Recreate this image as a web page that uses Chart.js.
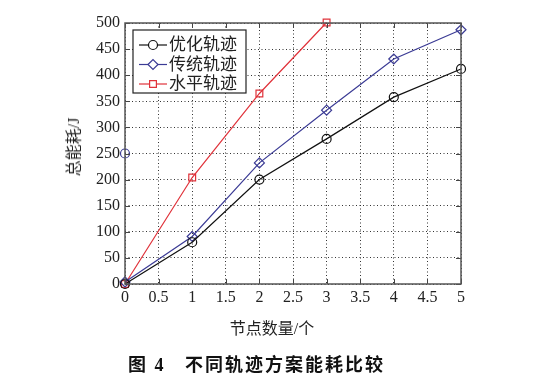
<!DOCTYPE html>
<html>
<head>
<meta charset="utf-8">
<script src="https://cdn.jsdelivr.net/npm/chart.js@4"></script>
<style>
  html, body { margin: 0; padding: 0; background: #fff; }
  #wrap { position: relative; width: 544px; height: 378px; overflow: hidden; }
  canvas { position: absolute; left: 0; top: 0; }
  .txt { position: absolute; font-family: "Liberation Serif", "Noto Sans CJK SC", serif; color: #222; white-space: nowrap; }
  #xtitle { left: 0; width: 544px; text-align: center; top: 315px; font-size: 16px; }
  #ytitle { left: 72px; top: 147px; font-size: 16px; transform: translate(-50%, -50%) rotate(-90deg); }
  #caption { left: 128px; top: 350px; font-size: 18px; font-weight: bold; letter-spacing: 2px; color: #111; }
</style>
</head>
<body>
<div id="wrap">
  <canvas id="energyChart" width="544" height="378"></canvas>
  <div class="txt" id="ytitle">总能耗/J</div>
  <div class="txt" id="xtitle">节点数量/个</div>
  <div class="txt" id="caption">图 4&nbsp;&nbsp;&nbsp;不同轨迹方案能耗比较</div>
</div>
<script>
// node counts
const nodes = [0, 1, 2, 3, 4, 5];
const redNodes = [0, 1, 2, 3];

// total energy (J)
const optimized = [0, 80, 200, 278, 358, 412];
const traditional = [4, 91, 232, 333, 431, 487];
const horizontal = [0, 204, 365, 501];

// stray marker at the left edge
const strayX = [0];
const strayY = [250];

const seriesNames = ['优化轨迹', '传统轨迹', '水平轨迹'];

const toPoints = (xs, ys) => xs.map((x, i) => ({ x: x, y: ys[i] }));

const serifFont = '"Liberation Serif", "Noto Sans CJK SC", serif';

// frame, inward ticks and legend box
const framePlugin = {
  id: 'frame',
  afterDraw(chart) {
    const { ctx, chartArea: a, scales } = chart;
    ctx.save();
    ctx.setLineDash([]);
    ctx.strokeStyle = '#444';
    ctx.lineWidth = 1;
    const len = 5;
    scales.x.ticks.forEach(t => {
      const px = Math.round(scales.x.getPixelForValue(t.value)) + 0.5;
      ctx.beginPath();
      ctx.moveTo(px, a.bottom); ctx.lineTo(px, a.bottom - len);
      ctx.moveTo(px, a.top); ctx.lineTo(px, a.top + len);
      ctx.stroke();
    });
    scales.y.ticks.forEach(t => {
      const py = Math.round(scales.y.getPixelForValue(t.value)) + 0.5;
      ctx.beginPath();
      ctx.moveTo(a.left, py); ctx.lineTo(a.left + len, py);
      ctx.moveTo(a.right, py); ctx.lineTo(a.right - len, py);
      ctx.stroke();
    });
    ctx.lineWidth = 1.5;
    ctx.strokeStyle = '#555';
    ctx.strokeRect(a.left, a.top, a.right - a.left, a.bottom - a.top);

    // legend
    const lx = a.left + 8, ly = a.top + 7, lw = 113, lh = 63;
    ctx.fillStyle = '#fff';
    ctx.fillRect(lx, ly, lw, lh);
    ctx.lineWidth = 1.2;
    ctx.strokeStyle = '#222';
    ctx.strokeRect(lx, ly, lw, lh);
    chart.data.datasets.slice(0, 3).forEach((ds, i) => {
      const y = ly + 15 + i * 19.5;
      ctx.strokeStyle = ds.borderColor;
      ctx.lineWidth = 1.2;
      ctx.beginPath();
      ctx.moveTo(lx + 6, y); ctx.lineTo(lx + 34, y);
      ctx.stroke();
      ctx.fillStyle = '#fff';
      Chart.helpers.drawPoint(ctx, {
        pointStyle: ds.pointStyle, radius: ds.pointRadius, borderWidth: 1.2
      }, lx + 20, y);
      ctx.fillStyle = '#222';
      ctx.font = '17px ' + serifFont;
      ctx.textBaseline = 'middle';
      ctx.fillText(ds.label, lx + 36, y + 1);
    });
    ctx.restore();
  }
};

const ctx = document.getElementById('energyChart').getContext('2d');
new Chart(ctx, {
  type: 'line',
  data: {
    datasets: [
      {
        label: seriesNames[0],
        data: toPoints(nodes, optimized),
        borderColor: '#111',
        pointStyle: 'circle',
        pointRadius: 4.5
      },
      {
        label: seriesNames[1],
        data: toPoints(nodes, traditional),
        borderColor: '#3b3b95',
        pointStyle: 'rectRot',
        pointRadius: 5
      },
      {
        label: seriesNames[2],
        data: toPoints(redNodes, horizontal),
        borderColor: '#e0323a',
        pointStyle: 'rect',
        pointRadius: 4.8
      },
      {
        label: 'stray',
        data: toPoints(strayX, strayY),
        borderColor: '#3b3b95',
        pointStyle: 'circle',
        pointRadius: 4.5,
        showLine: false
      }
    ].map(ds => Object.assign({
      borderWidth: 1.2,
      pointBorderColor: ds.borderColor,
      pointBackgroundColor: 'rgba(0,0,0,0)',
      pointBorderWidth: 1.2,
      tension: 0,
      clip: false
    }, ds))
  },
  options: {
    responsive: false,
    animation: false,
    layout: { padding: { left: 0, top: 23, right: 83, bottom: 0 } },
    plugins: {
      legend: { display: false },
      tooltip: { enabled: false }
    },
    scales: {
      x: {
        type: 'linear',
        min: 0,
        max: 5,
        afterFit: s => { s.height = 94; },
        ticks: {
          stepSize: 0.5,
          padding: 4,
          color: '#222',
          font: { family: serifFont, size: 16 },
          maxRotation: 0,
          autoSkip: false,
          callback: v => String(v)
        },
        grid: { color: '#333', lineWidth: 1, drawTicks: false },
        border: { display: false, dash: [1, 2.5] }
      },
      y: {
        min: 0,
        max: 500,
        afterFit: s => { s.width = 125; },
        ticks: {
          stepSize: 50,
          padding: 5,
          color: '#222',
          font: { family: serifFont, size: 16 },
          callback: v => String(v)
        },
        grid: { color: '#333', lineWidth: 1, drawTicks: false },
        border: { display: false, dash: [1, 2.5] }
      }
    }
  },
  plugins: [framePlugin]
});
</script>
</body>
</html>
